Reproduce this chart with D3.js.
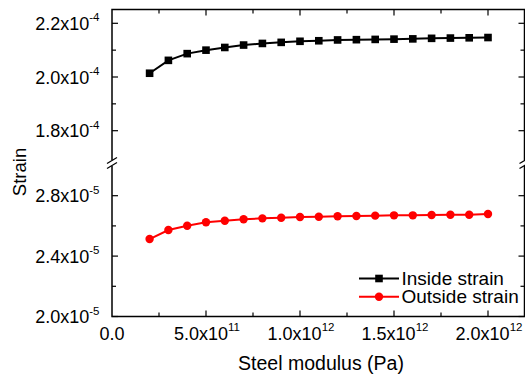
<!DOCTYPE html>
<html>
<head>
<meta charset="utf-8">
<script src="https://cdn.jsdelivr.net/npm/d3@7"></script>
<style>
  html,body{margin:0;padding:0;background:#fff;}
  svg{display:block;font-family:"Liberation Sans",Arial,sans-serif;}
</style>
</head>
<body>
<svg id="chart" width="525" height="376"></svg>
<script>
// steel modulus (Pa)
const modulus = [2e11,3e11,4e11,5e11,6e11,7e11,8e11,9e11,1.0e12,1.1e12,1.2e12,1.3e12,1.4e12,1.5e12,1.6e12,1.7e12,1.8e12,1.9e12,2.0e12];
const insideStrain = [2.014e-4,2.062e-4,2.087e-4,2.100e-4,2.110e-4,2.119e-4,2.125e-4,2.129e-4,2.133e-4,2.135e-4,2.138e-4,2.139e-4,2.140e-4,2.141e-4,2.142e-4,2.144e-4,2.145e-4,2.146e-4,2.147e-4];
const outsideStrain = [2.513e-5,2.573e-5,2.601e-5,2.624e-5,2.634e-5,2.644e-5,2.650e-5,2.654e-5,2.659e-5,2.661e-5,2.664e-5,2.666e-5,2.668e-5,2.670e-5,2.670e-5,2.672e-5,2.674e-5,2.674e-5,2.679e-5];
const xTicks = [0, 5e11, 1e12, 1.5e12, 2e12];
const xTickLabels = [["0.0",""],["5.0x10","11"],["1.0x10","12"],["1.5x10","12"],["2.0x10","12"]];
const xMinor = [2.5e11, 7.5e11, 1.25e12, 1.75e12];
const yUpTicks = [1.8e-4, 2.0e-4, 2.2e-4];
const yUpLabels = [["1.8x10","-4"],["2.0x10","-4"],["2.2x10","-4"]];
const yUpMinor = [1.9e-4, 2.1e-4];
const yLoTicks = [2.0e-5, 2.4e-5, 2.8e-5];
const yLoLabels = [["2.0x10","-5"],["2.4x10","-5"],["2.8x10","-5"]];
const yLoMinor = [2.2e-5, 2.6e-5];
const seriesNames = ["Inside strain","Outside strain"];

const svg = d3.select('#chart');
const L=112, R=524.5, T=9.5, B=316.5, BRK=163;
const x = d3.scaleLinear().domain([0,2.2e12]).range([L,525.6]);
const yUp = d3.scaleLinear().domain([1.8e-4,2.2e-4]).range([130.7,23.3]);
const yLo = d3.scaleLinear().domain([2.0e-5,2.8e-5]).range([B,195.7]);

const ax = svg.append('g').attr('stroke','#000').attr('stroke-width',1.5).attr('fill','none');
// frame with break gap
ax.append('path').attr('d',`M${L},${BRK-3}V${T}H${R}V${BRK-3}`);
ax.append('path').attr('d',`M${L},${BRK+3}V${B}H${R}V${BRK+3}`);
// break marks
[L,R].forEach(px=>{
  [-2.5,2.5].forEach(dy=>{
    ax.append('line').attr('x1',px-5).attr('y1',BRK+dy+3).attr('x2',px+5).attr('y2',BRK+dy-3).attr('stroke-width',1.2);
  });
});

// x ticks (inward, bottom and top)
const tk = svg.append('g').attr('stroke','#000').attr('stroke-width',1.2);
xTicks.concat(xMinor).forEach((v,i)=>{
  const len = i<xTicks.length?6:4;
  if(v===0) return;
  tk.append('line').attr('x1',x(v)).attr('x2',x(v)).attr('y1',B).attr('y2',B-len);
  tk.append('line').attr('x1',x(v)).attr('x2',x(v)).attr('y1',T).attr('y2',T+len);
});
// y ticks (inward, left and right)
function yTick(s,vals,len){
  vals.forEach(v=>{
    tk.append('line').attr('x1',L).attr('x2',L+len).attr('y1',s(v)).attr('y2',s(v));
    tk.append('line').attr('x1',R).attr('x2',R-len).attr('y1',s(v)).attr('y2',s(v));
  });
}
yTick(yUp,yUpTicks,6); yTick(yUp,yUpMinor,4);
yTick(yLo,yLoTicks,6); yTick(yLo,yLoMinor,4);

// tick labels
const lab = svg.append('g').attr('fill','#000').attr('font-size',18);
function supLabel(g,px,py,parts,anchor){
  const t=g.append('text').attr('x',px).attr('y',py).attr('text-anchor',anchor);
  t.append('tspan').text(parts[0]);
  if(parts[1]) t.append('tspan').attr('font-size',11.5).attr('dy',-8.5).text(parts[1]);
}
xTicks.forEach((v,i)=>supLabel(lab,x(v)+(xTickLabels[i][1]?1:0),339.5,xTickLabels[i],'middle'));
yUpTicks.forEach((v,i)=>supLabel(lab,99.5,yUp(v)+6.5,yUpLabels[i],'end'));
yLoTicks.forEach((v,i)=>supLabel(lab,99.5,yLo(v)+6.5,yLoLabels[i],'end'));

// axis titles
svg.append('text').attr('x',321).attr('y',370).attr('text-anchor','middle').attr('font-size',19.5).text('Steel modulus (Pa)');
svg.append('text').attr('transform','translate(25.5,172) rotate(-90)').attr('text-anchor','middle').attr('font-size',18.5).text('Strain');

// series
const upLine = d3.line().x((d,i)=>x(modulus[i])).y(d=>yUp(d));
const loLine = d3.line().x((d,i)=>x(modulus[i])).y(d=>yLo(d));
svg.append('path').datum(insideStrain).attr('d',upLine).attr('fill','none').attr('stroke','#000').attr('stroke-width',2);
svg.append('g').selectAll('rect').data(insideStrain).join('rect')
  .attr('x',(d,i)=>x(modulus[i])-3.8).attr('y',d=>yUp(d)-3.8).attr('width',7.6).attr('height',7.6).attr('fill','#000');
svg.append('path').datum(outsideStrain).attr('d',loLine).attr('fill','none').attr('stroke','#f00').attr('stroke-width',2);
svg.append('g').selectAll('circle').data(outsideStrain).join('circle')
  .attr('cx',(d,i)=>x(modulus[i])).attr('cy',d=>yLo(d)).attr('r',4.2).attr('fill','#f00');

// legend
const lg = svg.append('g').attr('font-size',19);
seriesNames.forEach((n,i)=>{
  const ly = 278.5 + i*18.3;
  const c = i===0?'#000':'#f00';
  lg.append('line').attr('x1',359).attr('x2',399).attr('y1',ly).attr('y2',ly).attr('stroke',c).attr('stroke-width',2);
  if(i===0) lg.append('rect').attr('x',379-3.8).attr('y',ly-3.8).attr('width',7.6).attr('height',7.6).attr('fill',c);
  else lg.append('circle').attr('cx',379).attr('cy',ly).attr('r',4.2).attr('fill',c);
  lg.append('text').attr('x',401.5).attr('y',ly+6.5).text(n);
});
</script>
</body>
</html>
